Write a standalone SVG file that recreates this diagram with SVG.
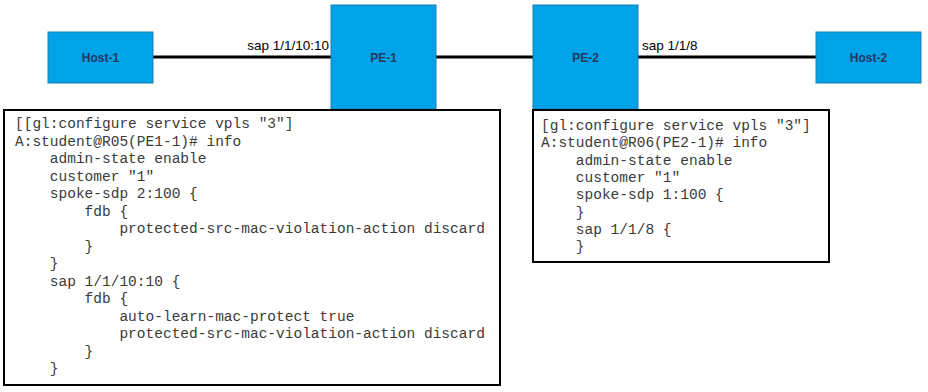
<svg xmlns="http://www.w3.org/2000/svg" width="928" height="392" viewBox="0 0 928 392">
<style>
.node{fill:#00A2E8;stroke:#1C7FB5;stroke-width:1}
.nl{font-family:"Liberation Sans",Arial,sans-serif;font-size:12px;font-weight:bold;fill:#1F3A5F;text-anchor:middle}
.link{stroke:#000;stroke-width:3;fill:none}
.ll{font-family:"Liberation Sans",Arial,sans-serif;font-size:13.5px;fill:#000}
.box{fill:#fff;stroke:#000;stroke-width:2}
.code{font-family:"Liberation Mono","Courier New",monospace;font-size:14.5px;fill:#3a3a3a;white-space:pre}
</style>
<rect width="928" height="392" fill="#fff"/>
<g id="connectors">
<line class="link" x1="153" y1="57" x2="331" y2="57"/>
<line class="link" x1="436" y1="57" x2="533" y2="57"/>
<line class="link" x1="638" y1="57" x2="816" y2="57"/>
<text class="ll" x="329" y="50" text-anchor="end">sap 1/1/10:10</text>
<text class="ll" x="642" y="50">sap 1/1/8</text>
</g>
<g id="host1"><rect class="node" x="48" y="32" width="105" height="51"/><text class="nl" x="100.5" y="62">Host-1</text></g>
<g id="pe1"><rect class="node" x="331" y="5" width="105" height="104"/><text class="nl" x="383.5" y="62">PE-1</text></g>
<g id="pe2"><rect class="node" x="533" y="5" width="105" height="104"/><text class="nl" x="585.5" y="62">PE-2</text></g>
<g id="host2"><rect class="node" x="816" y="32" width="105" height="51"/><text class="nl" x="868.5" y="62">Host-2</text></g>
<g id="pe1-config">
<rect class="box" x="4" y="110" width="496" height="275"/>
<text class="code" x="15" y="128" xml:space="preserve"><tspan x="15" y="128">[[gl:configure service vpls "3"]</tspan><tspan x="15" y="145.5">A:student@R05(PE1-1)# info</tspan><tspan x="15" y="163">    admin-state enable</tspan><tspan x="15" y="180.5">    customer "1"</tspan><tspan x="15" y="198">    spoke-sdp 2:100 {</tspan><tspan x="15" y="215.5">        fdb {</tspan><tspan x="15" y="233">            protected-src-mac-violation-action discard</tspan><tspan x="15" y="250.5">        }</tspan><tspan x="15" y="268">    }</tspan><tspan x="15" y="285.5">    sap 1/1/10:10 {</tspan><tspan x="15" y="303">        fdb {</tspan><tspan x="15" y="320.5">            auto-learn-mac-protect true</tspan><tspan x="15" y="338">            protected-src-mac-violation-action discard</tspan><tspan x="15" y="355.5">        }</tspan><tspan x="15" y="373">    }</tspan></text>
</g>
<g id="pe2-config">
<rect class="box" x="533" y="110" width="296" height="152"/>
<text class="code" x="541" y="130" xml:space="preserve"><tspan x="541" y="130">[gl:configure service vpls "3"]</tspan><tspan x="541" y="147.3">A:student@R06(PE2-1)# info</tspan><tspan x="541" y="164.6">    admin-state enable</tspan><tspan x="541" y="181.9">    customer "1"</tspan><tspan x="541" y="199.2">    spoke-sdp 1:100 {</tspan><tspan x="541" y="216.5">    }</tspan><tspan x="541" y="233.8">    sap 1/1/8 {</tspan><tspan x="541" y="251.1">    }</tspan></text>
</g>
</svg>
